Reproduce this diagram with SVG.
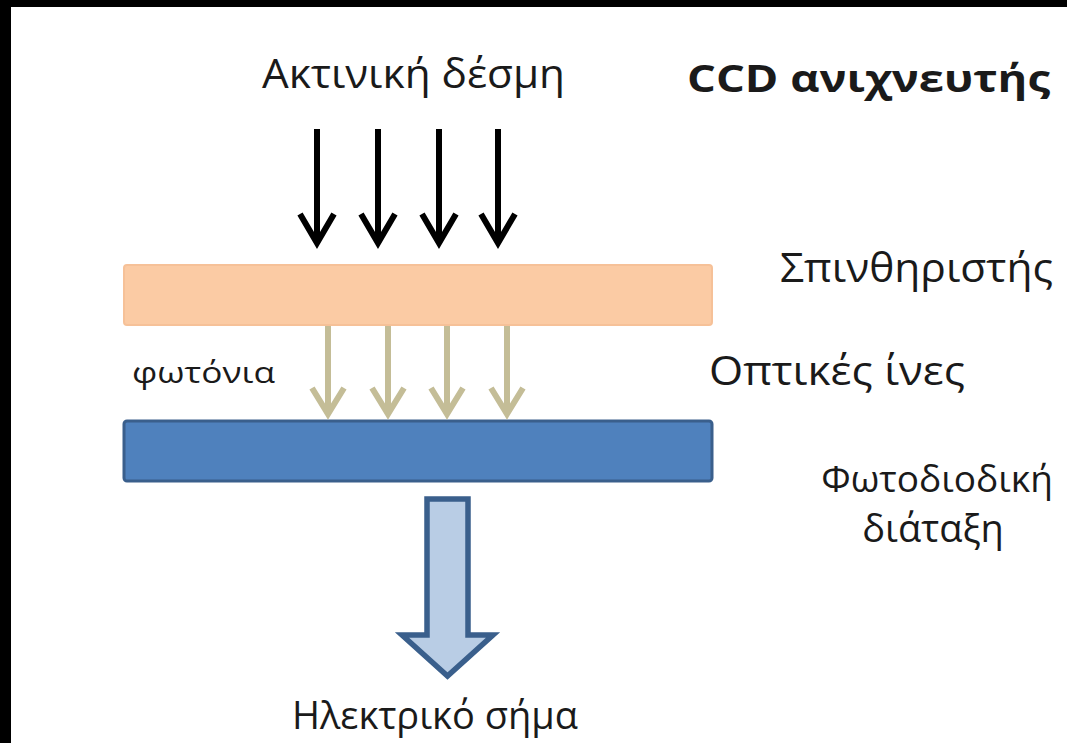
<svg xmlns="http://www.w3.org/2000/svg" width="1067" height="743" viewBox="0 0 1067 743">
<style>
text{font-family:"Open Sans","Noto Sans",sans-serif;fill:#1a1a1a}
.lbl{font-size:40px}
.beam{fill:none;stroke:#000;stroke-width:6;stroke-linejoin:miter;stroke-linecap:butt}
.fib{fill:none;stroke:#C4BD97;stroke-width:6;stroke-linejoin:miter}
</style>
<rect x="0" y="0" width="1067" height="743" fill="#fff"/>
<rect x="0" y="0" width="1067" height="7" fill="#000"/>
<rect x="0" y="0" width="11" height="743" fill="#000"/>
<g id="title"><text x="687" y="92" font-size="37" font-weight="bold" textLength="363" lengthAdjust="spacingAndGlyphs">CCD ανιχνευτής</text></g>
<g id="beam-label"><text class="lbl" x="262" y="88" textLength="303" lengthAdjust="spacingAndGlyphs">Ακτινική δέσμη</text></g>
<g id="scintillator">
<rect x="124" y="265" width="588" height="60" rx="3" fill="#FBCBA4" stroke="#F6C198" stroke-width="2"/>
<text class="lbl" x="780" y="282" textLength="273" lengthAdjust="spacingAndGlyphs">Σπινθηριστής</text>
</g>
<g id="fibers-label"><text class="lbl" x="709" y="385" textLength="256" lengthAdjust="spacingAndGlyphs">Οπτικές ίνες</text></g>
<g id="photons-label"><text x="132" y="383" font-size="30" textLength="143" lengthAdjust="spacingAndGlyphs">φωτόνια</text></g>
<g id="photodiode">
<rect x="124" y="421" width="588" height="60" rx="3" fill="#4F81BD" stroke="#3A5F8C" stroke-width="3"/>
<text x="1053" y="492" font-size="37" text-anchor="end">Φωτοδιοδική</text>
<text x="933" y="542" font-size="38" text-anchor="middle">διάταξη</text>
</g>
<g id="signal-label"><text x="435" y="729" font-size="38" text-anchor="middle">Ηλεκτρικό σήμα</text></g>
<g id="connectors">
<g id="beam-arrows">
<path class="beam" d="M317 129V243M300 214L317 243L334 214"/>
<path class="beam" d="M378 129V243M361 214L378 243L395 214"/>
<path class="beam" d="M439 129V243M422 214L439 243L456 214"/>
<path class="beam" d="M498 129V243M481 214L498 243L515 214"/>
</g>
<g id="fiber-arrows">
<path class="fib" d="M328 326V414M312 388L328 414L344 388"/>
<path class="fib" d="M388 326V414M372 388L388 414L404 388"/>
<path class="fib" d="M447 326V414M431 388L447 414L463 388"/>
<path class="fib" d="M507 326V414M491 388L507 414L523 388"/>
</g>
<path id="signal-arrow" d="M427 499H468V635H493L447.5 676L402 635H427Z" fill="#B9CDE5" stroke="#3A5F8C" stroke-width="5.5" stroke-linejoin="miter"/>
</g>
</svg>
